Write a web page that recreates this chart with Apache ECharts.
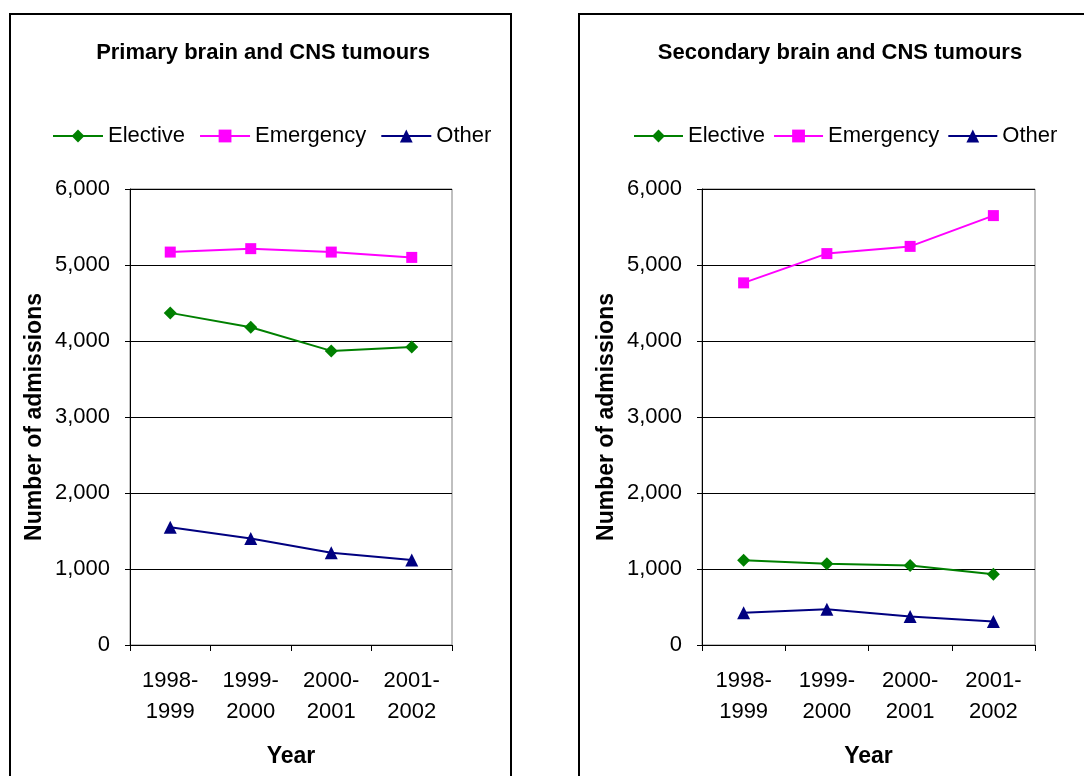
<!DOCTYPE html>
<html>
<head>
<meta charset="utf-8">
<script src="https://cdn.jsdelivr.net/npm/echarts@6/dist/echarts.min.js"></script>
<style>
html,body{margin:0;padding:0;background:#fff;}
#c{width:1084px;height:776px;}
</style>
</head>
<body>
<div id="c"></div>
<script>
const categories = ['1998-1999', '1999-2000', '2000-2001', '2001-2002'];
const seriesNames = ['Elective', 'Emergency', 'Other'];
const titles = ['Primary brain and CNS tumours', 'Secondary brain and CNS tumours'];
const yTicks = [0, 1000, 2000, 3000, 4000, 5000, 6000];

const primaryElective = [4370, 4180, 3870, 3920];
const primaryEmergency = [5170, 5215, 5170, 5100];
const primaryOther = [1550, 1400, 1215, 1120];

const secondaryElective = [1115, 1070, 1045, 930];
const secondaryEmergency = [4765, 5150, 5245, 5650];
const secondaryOther = [425, 470, 375, 310];

const colors = {Elective: '#008000', Emergency: '#FF00FF', Other: '#000080'};
const symbols = {Elective: 'diamond', Emergency: 'rect', Other: 'triangle'};
const symbolSizes = {Elective: 13, Emergency: 11, Other: 13};

const FONT = 'Arial, "Liberation Sans", sans-serif';
const fmt = v => String(v).replace(/\B(?=(\d{3})+(?!\d))/g, ',');

const grids = [
  {left: 130, top: 189, width: 322, height: 456},
  {left: 702, top: 189, width: 333, height: 456}
];

function mkSeries(name, data, idx) {
  return {
    name: name, type: 'line', data: data,
    xAxisIndex: idx, yAxisIndex: idx,
    symbol: symbols[name], symbolSize: symbolSizes[name],
    lineStyle: {color: colors[name], width: 2},
    itemStyle: {color: colors[name]},
    animation: false
  };
}

const chart = echarts.init(document.getElementById('c'), null, {renderer: 'canvas'});
const legendText = {fontFamily: FONT, fontSize: 22, color: '#000'};
const option = {
  backgroundColor: '#fff',
  animation: false,
  title: [
    {text: titles[0], left: 258, top: 37, textAlign: 'center',
     textStyle: {fontFamily: FONT, fontSize: 22, fontWeight: 'bold', color: '#000'}},
    {text: titles[1], left: 835, top: 37, textAlign: 'center',
     textStyle: {fontFamily: FONT, fontSize: 22, fontWeight: 'bold', color: '#000'}}
  ],
  legend: [
    {data: seriesNames, left: 47, top: 120, itemWidth: 50, itemHeight: 16, itemGap: 14,
     textStyle: legendText},
    {data: seriesNames, left: 628, top: 120, itemWidth: 49, itemHeight: 16, itemGap: 8,
     textStyle: legendText}
  ],
  grid: grids.map(g => Object.assign({show: true, borderColor: '#808080', borderWidth: 1, backgroundColor: '#fff'}, g)),
  xAxis: [0, 1].map(i => ({
    type: 'category', gridIndex: i, data: categories, boundaryGap: true,
    name: 'Year', nameLocation: 'middle', nameGap: 100,
    nameTextStyle: {fontFamily: FONT, fontSize: 23, fontWeight: 'bold', color: '#000'},
    axisLine: {lineStyle: {color: '#000', width: 1}},
    axisTick: {show: true, length: 6, lineStyle: {color: '#000'}},
    axisLabel: {fontFamily: FONT, fontSize: 22, color: '#000', margin: 20, lineHeight: 31,
      formatter: v => v.replace('-', '-\n')},
    splitLine: {show: false}
  })),
  yAxis: [0, 1].map(i => ({
    type: 'value', gridIndex: i, min: yTicks[0], max: yTicks[yTicks.length - 1], interval: 1000,
    name: 'Number of admissions', nameLocation: 'middle', nameGap: 84,
    nameTextStyle: {fontFamily: FONT, fontSize: 23, fontWeight: 'bold', color: '#000'},
    axisLine: {show: true, lineStyle: {color: '#000', width: 1}},
    axisTick: {show: true, length: 5, lineStyle: {color: '#000'}},
    axisLabel: {fontFamily: FONT, fontSize: 22, color: '#000', margin: 20, formatter: fmt},
    splitLine: {show: true, lineStyle: {color: '#000', width: 1}}
  })),
  series: [
    mkSeries('Elective', primaryElective, 0),
    mkSeries('Emergency', primaryEmergency, 0),
    mkSeries('Other', primaryOther, 0),
    mkSeries('Elective', secondaryElective, 1),
    mkSeries('Emergency', secondaryEmergency, 1),
    mkSeries('Other', secondaryOther, 1)
  ],
  graphic: [
    {type: 'rect', shape: {x: 10, y: 14, width: 501, height: 800},
     style: {fill: 'none', stroke: '#000', lineWidth: 2}, z: 100, silent: true},
    {type: 'rect', shape: {x: 579, y: 14, width: 600, height: 800},
     style: {fill: 'none', stroke: '#000', lineWidth: 2}, z: 100, silent: true}
  ]
};
chart.setOption(option);
</script>
</body>
</html>
